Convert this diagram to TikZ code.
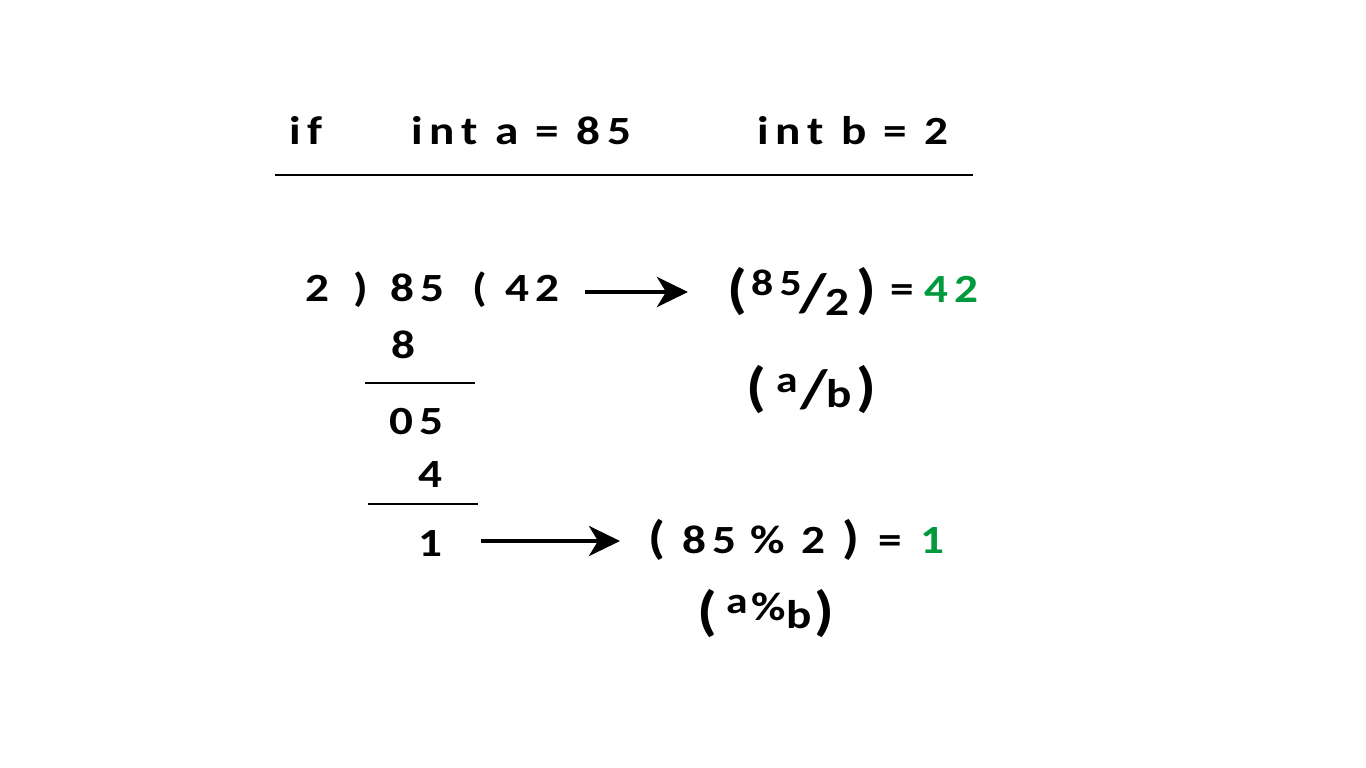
\documentclass[tikz,border=0pt]{standalone}
\usepackage{fontspec}
\setmainfont{Carlito}[LetterSpace=17, FakeStretch=1.18]
\usetikzlibrary{arrows.meta}
\definecolor{resgreen}{RGB}{0,153,60}
\begin{document}
\begin{tikzpicture}[x=1pt, y=-1pt,
    txt/.style={anchor=base west, inner sep=0pt, font=\bfseries\fontsize{40}{40}\selectfont},
    sml/.style={txt, font=\bfseries\fontsize{37}{40}\selectfont},
    paren/.style={txt, font=\bfseries\fontsize{54}{54}\selectfont},
    mparen/.style={txt, font=\bfseries\fontsize{46}{46}\selectfont},
    res/.style={txt, text=resgreen},
    rule/.style={line width=2.2pt},
    arr/.style={line width=4pt, -{Stealth[length=31pt, width=30pt, inset=9pt]}}]
    \useasboundingbox (0,0) rectangle (1366,768);
    % header
    \node[txt] (hif) at (289,144) {if};
    \node[txt] (ha) at (411,144) {int a = 85};
    \node[txt] (hb) at (757,144) {int b = 2};
    \draw[rule] (275,175) -- (973,175);
    % long division
    \node[txt] (dsr) at (305,301) {2};
    \node[txt] (rp) at (353,301) {)};
    \node[txt] (dvd) at (390,301) {85};
    \node[txt] (lp) at (472,301) {(};
    \node[txt] (quo) at (505,301) {42};
    \foreach \t/\x/\y/\n in {8/391/358/s1, 05/389/434/s2, 4/418/487/s3, 1/418/556/rem}{
        \node[txt] (\n) at (\x,\y) {\t};
    }
    \draw[rule] (365,383) -- (475,383);
    \draw[rule] (368,504) -- (478,504);
    % quotient a/b
    \node[paren] (qo) at (727,307) {(};
    \node[sml] (qn) at (751,295) {85};
    \node[paren] (qs) at (799,311) {/};
    \node[txt] (qd) at (825,315) {2};
    \node[paren] (qc) at (856,307) {)};
    \node[txt] (qe) at (890,302) {=};
    \node[res] (qr) at (924,302) {42};
    \node[paren] (ao) at (746,405) {(};
    \node[sml] (an) at (776,392) {a};
    \node[paren] (as) at (800,407) {/};
    \node[txt] (ad) at (826,407) {b};
    \node[paren] (ac) at (856,405) {)};
    % remainder a%b
    \node[mparen] (mo) at (648,553) {(};
    \node[txt] (mn) at (682,553) {85};
    \node[txt] (mp) at (750,553) {\%};
    \node[txt] (md) at (801,553) {2};
    \node[mparen] (mc) at (842,553) {)};
    \node[txt] (me) at (878,553) {=};
    \node[res] (mr) at (920,553) {1};
    \node[paren] (bo) at (697,629) {(};
    \node[sml] (bn) at (726,613) {a};
    \node[txt] (bp) at (751,620) {\%};
    \node[txt] (bd) at (786,628) {b};
    \node[paren] (bc) at (814,629) {)};
    % arrows
    \coordinate (a1s) at (585,292);
    \coordinate (a1e) at (688,292);
    \coordinate (a2s) at (481,541);
    \coordinate (a2e) at (620,541);
    \draw[arr] (a1s) -- (a1e);
    \draw[arr] (a2s) -- (a2e);
\end{tikzpicture}
\end{document}
